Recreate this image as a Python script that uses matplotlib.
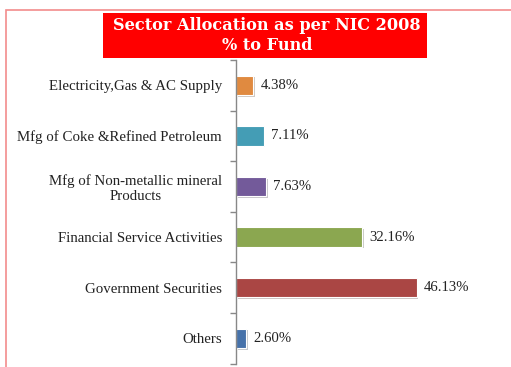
import matplotlib
matplotlib.use('Agg')
import matplotlib.pyplot as plt
import matplotlib.patheffects as pe
from matplotlib.patches import Rectangle

# Data (top to bottom as shown)
sectors = ['Electricity,Gas & AC Supply', 'Mfg of Coke &Refined Petroleum',
           'Mfg of Non-metallic mineral\nProducts', 'Financial Service Activities',
           'Government Securities', 'Others']
values = [4.38, 7.11, 7.63, 32.16, 46.13, 2.60]
colors = ['#E08A40', '#449DB5', '#735A9A', '#8BA750', '#AA4644', '#4672AA']

W, H = 511, 367
fig = plt.figure(figsize=(W / 100, H / 100), dpi=100)
plt.rcParams['font.family'] = ['Liberation Serif', 'DejaVu Serif']

# Pink border
fig.patches.append(Rectangle((5.5 / W, -0.01), 1.1, 1 - 9.5 / H + 0.01,
                             transform=fig.transFigure, fill=False,
                             edgecolor='#F28C8C', linewidth=1.2))

# Title box
fig.patches.append(Rectangle((103 / W, 1 - 58 / H), 324 / W, 45 / H,
                             transform=fig.transFigure, facecolor='#FF0000',
                             edgecolor='none'))
fig.text(267 / W, 1 - 35.5 / H, 'Sector Allocation as per NIC 2008\n% to Fund',
         ha='center', va='center', color='white', fontsize=11.6,
         fontweight='bold', family='DejaVu Serif', linespacing=1.25)

ax = fig.add_axes([236 / W, 1 - 363.6 / H, 274 / W, 303.6 / H])
ax.set_facecolor('none')

y = list(range(len(sectors)))
bars = ax.barh(y, values, height=0.38, color=colors, edgecolor='white',
               linewidth=0.8)
for b in bars:
    b.set_path_effects([pe.SimplePatchShadow(offset=(1.2, -1.2), alpha=0.25),
                        pe.Normal()])

for yi, v in zip(y, values):
    ax.text(v + 1.9, yi, f'{v:.2f}%', va='center', ha='left', fontsize=10.6,
            color='#222222')

ax.set_xlim(0, 70)
ax.set_ylim(len(sectors) - 0.5, -0.5)
ax.set_yticks(y)
ax.set_yticklabels(sectors, fontsize=10.7, color='#222222')
ax.tick_params(axis='y', which='major', length=0, pad=10)
ax.set_yticks([i - 0.5 for i in range(len(sectors) + 1)], minor=True)
ax.tick_params(axis='y', which='minor', length=4, color='#888888', width=1)
for lbl in ax.get_yticklabels():
    lbl.set_multialignment('center')

ax.set_xticks([])
for s in ['top', 'right', 'bottom']:
    ax.spines[s].set_visible(False)
ax.spines['left'].set_color('#888888')
ax.spines['left'].set_linewidth(1)

fig.savefig('out.png', dpi=100)
